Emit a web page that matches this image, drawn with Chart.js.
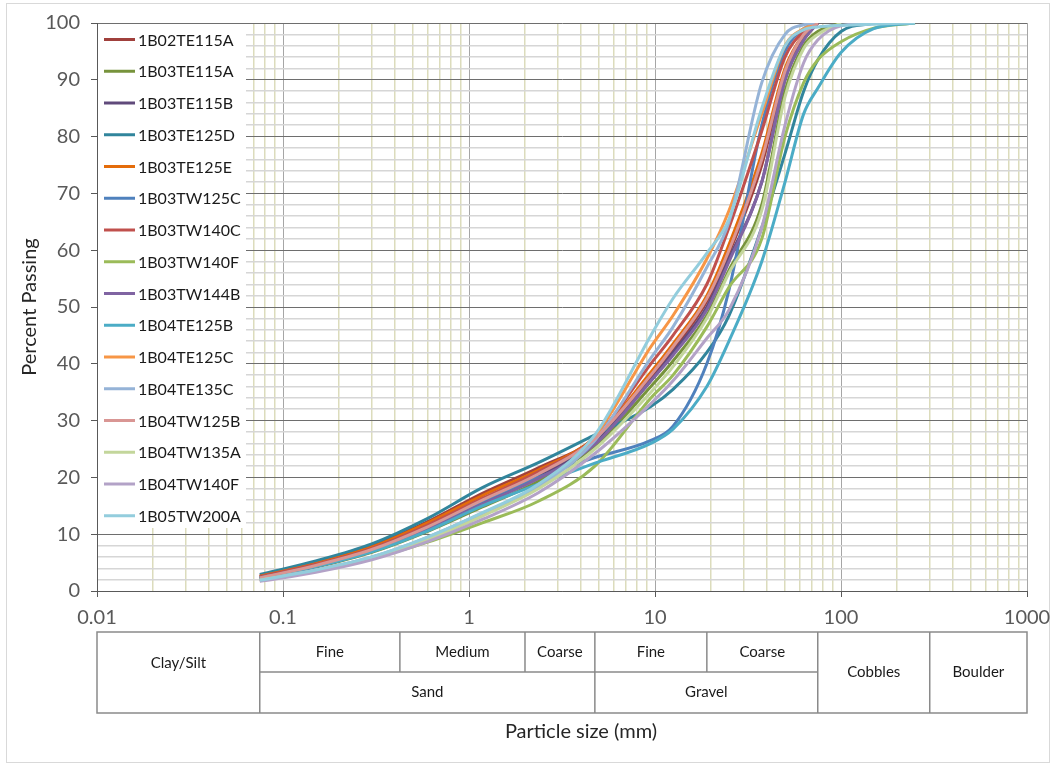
<!DOCTYPE html>
<html>
<head>
<meta charset="utf-8">
<script src="https://cdn.jsdelivr.net/npm/chart.js@4"></script>
<style>
  html, body { margin: 0; padding: 0; background: #fff; }
</style>
</head>
<body>
<canvas id="myChart" width="1054" height="765"></canvas>
<script>
// Sieve sizes (mm) shared by all samples
const sizes = [0.075, 0.15, 0.3, 0.6, 1.18, 2.36, 4.75, 9.5, 12.5, 19, 25, 37.5, 50, 63, 75, 100, 150, 250];

// Percent passing for each sample (stops once it reaches 100)
const s1B02TE115A = [2.6, 4.9, 7.9, 12.2, 17.2, 21.7, 26.8, 37.5, 42.5, 51, 59.5, 75, 91, 97.5, 100];
const s1B03TE115A = [2.2, 4.2, 6.8, 10.5, 14.8, 19.3, 25.5, 36, 40.5, 48.5, 56.5, 68, 88, 96, 98.5, 100];
const s1B03TE115B = [2.3, 4.4, 7.1, 11.0, 15.6, 20.2, 26.2, 37, 42, 50, 58.5, 72, 90, 97, 100];
const s1B03TE125D = [2.9, 5.3, 8.3, 12.8, 18.2, 22.6, 27.5, 32.5, 35.5, 42, 48.5, 64, 77, 88, 93.5, 98.5, 100];
const s1B03TE125E = [2.6, 4.8, 7.7, 12.0, 16.8, 21.3, 27.0, 38.5, 43.5, 52, 61, 77, 92, 98, 100];
const s1B03TW125C = [2.4, 4.5, 7.2, 11.2, 15.8, 20.0, 23.5, 26.5, 29, 40, 53, 82, 95, 99, 100];
const s1B03TW140C = [2.5, 4.7, 7.5, 11.6, 16.3, 21.0, 27.0, 40, 45, 54, 64, 81, 94, 98.5, 100];
const s1B03TW140F = [2.0, 3.6, 5.7, 8.6, 12.0, 15.8, 22.0, 34, 38, 46.5, 53.5, 62, 80, 89.5, 93.5, 96.7, 99.1, 100];
const s1B03TW144B = [2.2, 4.3, 7.0, 10.8, 15.3, 19.8, 25.8, 37, 41.5, 49.5, 58, 72, 90, 97, 100];
const s1B04TE125B = [2.3, 4.3, 6.9, 10.6, 15.0, 18.8, 22.5, 26, 28.5, 36, 44, 58, 72, 84, 88.5, 94.8, 99, 100];
const s1B04TE125C = [1.8, 3.6, 5.9, 9.3, 13.6, 18.6, 27.2, 43, 48.5, 58.5, 67, 84, 96, 99, 100];
const s1B04TE135C = [1.9, 3.7, 6.0, 9.5, 13.7, 18.4, 26.5, 41, 46.5, 57, 65, 89.5, 98, 99.7, 100];
const s1B04TW125B = [2.3, 4.5, 7.3, 11.3, 16.0, 20.6, 26.8, 38, 43, 51.5, 60, 76, 91.5, 98, 100];
const s1B04TW135A = [1.9, 3.6, 5.8, 9.1, 13.2, 18.0, 25.0, 35, 39.5, 48, 56, 67, 87, 95.5, 98, 100];
const s1B04TW140F = [1.7, 3.3, 5.5, 8.7, 12.6, 17.3, 24.2, 33, 37, 44.5, 49.5, 64, 82, 93, 97, 99.5, 100];
const s1B05TW200A = [1.9, 3.7, 6.0, 9.5, 13.8, 18.8, 27.5, 45, 51.5, 59.5, 65.5, 85, 96, 98.8, 99.3, 99.6, 99.8, 100];

const sampleNames = ["1B02TE115A", "1B03TE115A", "1B03TE115B", "1B03TE125D", "1B03TE125E", "1B03TW125C",
  "1B03TW140C", "1B03TW140F", "1B03TW144B", "1B04TE125B", "1B04TE125C", "1B04TE135C",
  "1B04TW125B", "1B04TW135A", "1B04TW140F", "1B05TW200A"];
const sampleValues = [s1B02TE115A, s1B03TE115A, s1B03TE115B, s1B03TE125D, s1B03TE125E, s1B03TW125C,
  s1B03TW140C, s1B03TW140F, s1B03TW144B, s1B04TE125B, s1B04TE125C, s1B04TE135C,
  s1B04TW125B, s1B04TW135A, s1B04TW140F, s1B05TW200A];
const sampleColors = ["#A0403C", "#77933C", "#604A7B", "#31859C", "#E46C0A", "#4F81BD",
  "#C0504D", "#9BBB59", "#8064A2", "#4BACC6", "#F79646", "#95B3D7",
  "#D99694", "#C3D69B", "#B3A2C7", "#93CDDD"];

// Axis ticks
const xTicks = [0.01, 0.02, 0.03, 0.04, 0.05, 0.06, 0.07, 0.08, 0.09,
  0.1, 0.2, 0.3, 0.4, 0.5, 0.6, 0.7, 0.8, 0.9,
  1, 2, 3, 4, 5, 6, 7, 8, 9,
  10, 20, 30, 40, 50, 60, 70, 80, 90,
  100, 200, 300, 400, 500, 600, 700, 800, 900, 1000];
const xLabels = [0.01, 0.1, 1, 10, 100, 1000];
const yLabels = [0, 10, 20, 30, 40, 50, 60, 70, 80, 90, 100];

// Soil classification table under the axis
const topRow = [["Clay/Silt", 0.01, 0.075], ["Fine", 0.075, 0.425], ["Medium", 0.425, 2], ["Coarse", 2, 4.75],
  ["Fine", 4.75, 19], ["Coarse", 19, 75], ["Cobbles", 75, 300], ["Boulder", 300, 1000]];
const bottomRow = [["Sand", 0.075, 4.75], ["Gravel", 4.75, 75]];

const isLabel = (v) => xLabels.some(l => Math.abs(l - v) < 1e-9);

Chart.defaults.font.family = "Lato";

const extras = {
  id: "extras",
  beforeDraw(chart) {
    const c = chart.ctx;
    c.save();
    c.fillStyle = "#fff";
    c.fillRect(0, 0, chart.width, chart.height);
    c.strokeStyle = "#d9d9d9";
    c.lineWidth = 1;
    c.strokeRect(6.5, 3.5, 1043, 759);
    c.restore();
  },
  beforeDatasetsDraw(chart) {
    // legend inside the plot, top left
    const c = chart.ctx, a = chart.chartArea;
    c.save();
    c.fillStyle = "#fff";
    c.fillRect(a.left + 1, a.top + 1, 148, 504);
    c.font = "16px Lato";
    c.textBaseline = "middle";
    chart.data.datasets.forEach((ds, i) => {
      const y = a.top + 16.5 + i * 31.75;
      c.strokeStyle = ds.borderColor;
      c.lineWidth = 3;
      c.beginPath();
      c.moveTo(a.left + 7, y);
      c.lineTo(a.left + 38, y);
      c.stroke();
      c.fillStyle = "#1a1a1a";
      c.fillText(ds.label, a.left + 41, y + 1);
    });
    c.restore();
  },
  afterDraw(chart) {
    const c = chart.ctx, x = chart.scales.x, a = chart.chartArea;
    const top = a.bottom + 41, mid = a.bottom + 81, bot = a.bottom + 122;
    const px = (v) => x.getPixelForValue(v);
    c.save();
    c.strokeStyle = "#8a8a8a";
    c.lineWidth = 1.5;
    c.strokeRect(px(0.01), top, px(1000) - px(0.01), bot - top);
    c.beginPath();
    [0.075, 4.75, 75, 300].forEach(v => { c.moveTo(px(v), top); c.lineTo(px(v), bot); });
    [0.425, 2, 19].forEach(v => { c.moveTo(px(v), top); c.lineTo(px(v), mid); });
    c.moveTo(px(0.075), mid); c.lineTo(px(75), mid);
    c.stroke();
    c.fillStyle = "#1a1a1a";
    c.font = "15px Lato";
    c.textAlign = "center";
    c.textBaseline = "middle";
    topRow.forEach(([t, lo, hi]) => {
      let y = top + 20;
      if (t === "Clay/Silt") y = top + 31;
      if (t === "Cobbles" || t === "Boulder") y = top + 40;
      c.fillText(t, (px(lo) + px(hi)) / 2, y);
    });
    bottomRow.forEach(([t, lo, hi]) => c.fillText(t, (px(lo) + px(hi)) / 2, top + 60));
    // x axis title, sits a little right of the plot centre
    c.fillStyle = "#262626";
    c.font = "20px Lato";
    c.fillText("Particle size (mm)", (a.left + a.right) / 2 + 19, bot + 19);
    c.restore();
  }
};

const ctx = document.getElementById("myChart").getContext("2d");
const myChart = new Chart(ctx, {
  type: "line",
  data: {
    datasets: sampleNames.map((name, i) => ({
      label: name,
      data: sampleValues[i].map((v, j) => ({ x: sizes[j], y: v })),
      borderColor: sampleColors[i],
      backgroundColor: sampleColors[i],
      borderWidth: 3,
      pointRadius: 0,
      fill: false,
      cubicInterpolationMode: "monotone",
      order: sampleNames.length - i
    }))
  },
  options: {
    responsive: false,
    animation: false,
    layout: { padding: { left: 8, right: 27, top: 23, bottom: 0 } },
    plugins: { legend: { display: false }, tooltip: { enabled: false } },
    scales: {
      x: {
        type: "logarithmic",
        min: 0.01,
        max: 1000,
        afterBuildTicks: (scale) => { scale.ticks = xTicks.map(v => ({ value: v, major: isLabel(v) })); },
        afterFit: (scale) => {
          scale.height = 174;
          scale.paddingLeft = 0;
          scale.paddingRight = 0;
        },
        ticks: {
          autoSkip: false,
          maxRotation: 0,
          padding: 9,
          color: "#595959",
          font: { size: 20 },
          callback: (v) => isLabel(v) ? String(v) : ""
        },
        grid: {
          color: (c) => c.tick.value === 0.01 ? "#595959" : (isLabel(c.tick.value) ? "#a6a6a6" : "#dcdcbc"),
          lineWidth: (c) => isLabel(c.tick.value) ? 1 : 1.5,
          tickColor: (c) => isLabel(c.tick.value) ? "#595959" : "rgba(0,0,0,0)",
          tickLength: 6
        },
        border: { color: "#595959", width: 1 }
      },
      y: {
        min: 0,
        max: 100,
        afterFit: (scale) => { scale.width = 89; },
        ticks: {
          stepSize: 2,
          autoSkip: false,
          padding: 11,
          color: "#595959",
          font: { size: 20 },
          callback: (v) => yLabels.includes(v) ? String(v) : ""
        },
        grid: {
          color: (c) => yLabels.includes(c.tick.value) ? "#6e6e6e" : "#d6d6d6",
          lineWidth: (c) => yLabels.includes(c.tick.value) ? 1 : 1.5,
          tickColor: (c) => yLabels.includes(c.tick.value) ? "#595959" : "rgba(0,0,0,0)",
          tickLength: 6
        },
        border: { color: "#595959", width: 1 },
        title: {
          display: true,
          text: "Percent Passing",
          color: "#262626",
          font: { size: 20 },
          padding: { top: 10, bottom: 0 }
        }
      }
    }
  },
  plugins: [extras]
});
</script>
</body>
</html>
